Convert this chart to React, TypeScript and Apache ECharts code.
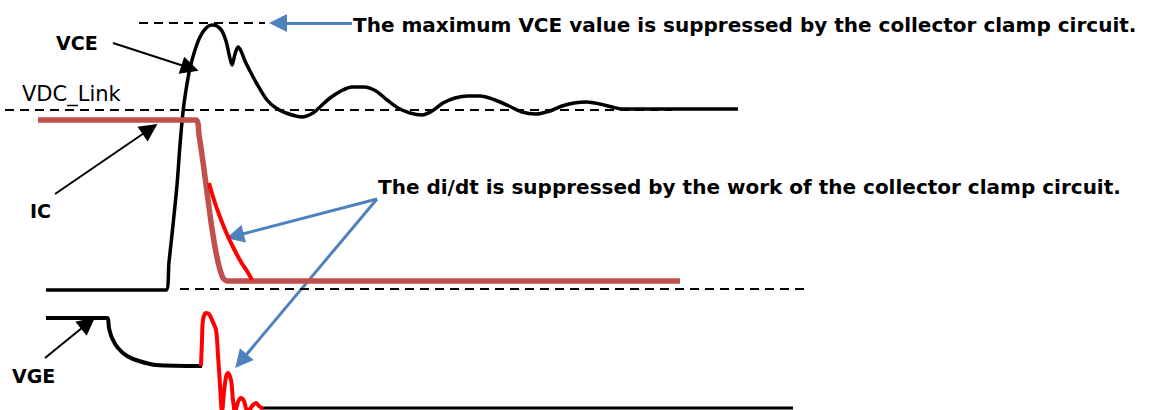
import React, { useEffect, useRef } from "react";
import * as echarts from "echarts";

// Waveform sketch of an IGBT turn-off with a collector clamp circuit.
// Coordinates are in a 1150 x 410 drawing space (y grows downward).

const W = 1150;
const H = 410;

// Collector-emitter voltage
const vceCurve: number[][] = [
  [46, 290], [166, 290], [169, 262], [173, 225], [177, 185], [180, 145], [183, 112],
  [186, 90], [190, 68], [195, 50], [200, 37], [206, 28], [212, 25], [217, 26],
  [222, 31], [226, 41], [229, 54], [232, 65], [235, 54], [238, 47], [241, 51],
  [245, 61], [251, 73], [257, 84], [267, 100], [276, 108], [286, 113], [302, 117],
  [313, 113], [321, 106], [330, 98], [341, 91], [352, 87], [364, 87], [376, 91],
  [387, 100], [398, 108], [410, 113], [422, 115], [432, 111], [443, 103], [455, 98],
  [468, 96], [480, 96], [495, 100], [509, 106], [522, 112], [536, 114], [550, 111],
  [562, 106], [574, 103], [587, 102], [600, 104], [612, 107], [622, 109], [738, 109],
];

// DC-link level and clamp level (dashed references)
const vdcLink: number[][] = [[5, 110], [672, 110]];
const clampLevel: number[][] = [[139, 23], [265, 23]];
const zeroLevel: number[][] = [[180, 289], [806, 289]];

// Collector current (normal) and the clamped di/dt tail
const icCurve: number[][] = [
  [38, 120], [196, 120], [199, 135], [203, 162], [207, 192], [211, 222],
  [215, 247], [219, 266], [223, 278], [227, 281], [680, 281],
];
const icClamped: number[][] = [
  [209, 183], [214, 200], [220, 217], [226, 232], [233, 247], [241, 262],
  [247, 271], [252, 280],
];

// Gate-emitter voltage
const vgeCurve: number[][] = [
  [46, 318], [107, 318], [109, 328], [112, 338], [118, 348], [127, 356],
  [139, 361], [156, 365], [202, 366],
];
const vgeRinging: number[][] = [
  [201, 366], [202, 340], [203, 320], [206, 313], [209, 314], [212, 320],
  [216, 330], [218, 355], [220, 385], [222, 412], [224, 392], [226, 377],
  [228, 373], [231, 380], [233, 400], [235, 412], [238, 402], [241, 398],
  [244, 401], [247, 410], [250, 409], [253, 405], [256, 403], [259, 406], [263, 409],
];
const vgeOff: number[][] = [[262, 408], [793, 408]];

// Annotation arrows: [from, to]
const blackArrows: number[][][] = [
  [[113, 43], [190, 68]],
  [[55, 194], [150, 129]],
  [[45, 358], [88, 323]],
];
const blueArrows: number[][][] = [
  [[352, 23], [278, 23]],
  [[377, 199], [235, 236]],
  [[377, 199], [241, 361]],
];

const BLACK = "#000000";
const BROWN = "#C0504D";
const RED = "#FF0000";
const BLUE = "#4F81BD";
const FONT = "'DejaVu Sans', Verdana, sans-serif";

function lineSeries(data: number[][], color: string, width: number, smooth: number | boolean, dashed = false) {
  return {
    type: "line",
    data,
    smooth,
    symbol: "none",
    silent: true,
    lineStyle: {
      color,
      width,
      type: dashed ? [9, 6] : "solid",
      cap: "butt",
      join: "round",
    },
  };
}

function arrowSeries(pairs: number[][][], color: string, width: number) {
  return {
    type: "lines",
    coordinateSystem: "cartesian2d",
    silent: true,
    symbol: ["none", "triangle"],
    symbolSize: [14, 18],
    lineStyle: { color, width, opacity: 1, curveness: 0 },
    data: pairs.map((p) => ({ coords: p })),
  };
}

export default function App() {
  const ref = useRef<HTMLDivElement>(null);

  useEffect(() => {
    if (!ref.current) return;
    const chart = echarts.init(ref.current, null, { renderer: "svg" });
    const text = (t: string, x: number, y: number, size: number, bold: boolean) => ({
      type: "text",
      x,
      y,
      silent: true,
      z: 10,
      style: {
        text: t,
        fontSize: size,
        fontWeight: bold ? "bold" : "normal",
        fontFamily: FONT,
        fill: "#000",
        align: "left",
        verticalAlign: "middle",
      },
    });
    chart.setOption({
      animation: false,
      backgroundColor: "#ffffff",
      grid: { left: 0, right: 0, top: 0, bottom: 0 },
      xAxis: { type: "value", min: 0, max: W, show: false },
      yAxis: { type: "value", min: 0, max: H, inverse: true, show: false },
      series: [
        lineSeries(vdcLink, BLACK, 2, false, true),
        lineSeries(clampLevel, BLACK, 2, false, true),
        lineSeries(zeroLevel, BLACK, 2, false, true),
        lineSeries(vceCurve, BLACK, 3.5, 0.3),
        lineSeries(icCurve, BROWN, 5.5, 0.2),
        lineSeries(icClamped, RED, 4, 0.3),
        lineSeries(vgeCurve, BLACK, 4, 0.3),
        lineSeries(vgeOff, BLACK, 3, false),
        lineSeries(vgeRinging, RED, 4, 0.3),
        arrowSeries(blackArrows, BLACK, 2),
        arrowSeries(blueArrows, BLUE, 3),
      ],
      graphic: [
        text("VCE", 56, 43, 19, true),
        text("VDC_Link", 22, 94, 21, false),
        text("IC", 30, 211, 19, true),
        text("VGE", 12, 376, 19, true),
        text("The maximum VCE value is suppressed by the collector clamp circuit.", 353, 25, 20, true),
        text("The di/dt is suppressed by the work of the collector clamp circuit.", 378, 187, 20, true),
      ],
    });
    return () => chart.dispose();
  }, []);

  return (
    <div
      ref={ref}
      style={{ position: "absolute", left: 0, top: 0, width: W, height: H, background: "#fff" }}
    />
  );
}
